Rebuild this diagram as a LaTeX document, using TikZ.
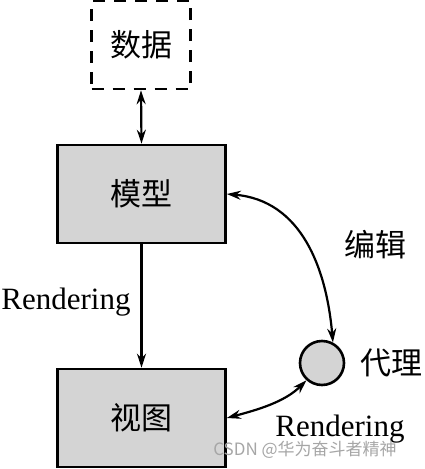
\documentclass[tikz,border=0pt]{standalone}
\usepackage{fontspec}
\setmainfont{Liberation Serif}
\newfontfamily\cjk{Noto Sans CJK SC}
\newfontfamily\wmfont{Noto Sans CJK SC}
\usetikzlibrary{arrows.meta}
\begin{document}
\begin{tikzpicture}[x=1pt,y=-1pt,
  boxstyle/.style={draw=black,line width=2.6pt,fill=black!17,minimum width=168pt,minimum height=98pt,inner sep=0pt,font=\cjk\fontsize{31}{31}\selectfont},
  databox/.style={draw=black,line width=2.6pt,dash pattern=on 12pt off 9pt,minimum width=99pt,minimum height=88pt,inner sep=0pt,font=\cjk\fontsize{31}{31}\selectfont},
  lbl/.style={inner sep=0pt,font=\fontsize{31}{31}\selectfont},
  cjklbl/.style={inner sep=0pt,font=\cjk\fontsize{31}{31}\selectfont},
  conn/.style={line width=2.2pt,{Stealth[length=14pt,width=9pt]}-{Stealth[length=14pt,width=9pt]}},
  oneway/.style={line width=2.2pt,-{Stealth[length=14pt,width=9pt]}},
  proxy/.style={circle,draw=black,line width=2.6pt,fill=black!17,minimum size=44pt,inner sep=0pt}]
\useasboundingbox (0,0) rectangle (425,469);
\node[databox] (data) at (141,45) {数据};
\node[boxstyle] (model) at (141.5,194) {模型};
\node[boxstyle] (view) at (141.5,418) {视图};
\node[proxy] (agent) at (322,363) {};
\node[cjklbl] (agentlbl) at (391,363) {代理};
\node[cjklbl] (editlbl) at (375,245) {编辑};
\node[lbl] (rend1) at (66,302) {Rendering};
\node[lbl] (rend2) at (340,429) {Rendering};
\draw[conn] (data.south) -- (model.north);
\draw[oneway] (model.south) -- (view.north);
\draw[conn] (model.east) to[out=-5,in=95,looseness=1.05] (agent.62);
\draw[conn] (view.east) to[out=15,in=225,looseness=0.9] (agent.228);
\node[inner sep=0pt,text=black!35,font=\wmfont\fontsize{17}{17}\selectfont] (wm) at (305,450) {CSDN @华为奋斗者精神};
\end{tikzpicture}
\end{document}
